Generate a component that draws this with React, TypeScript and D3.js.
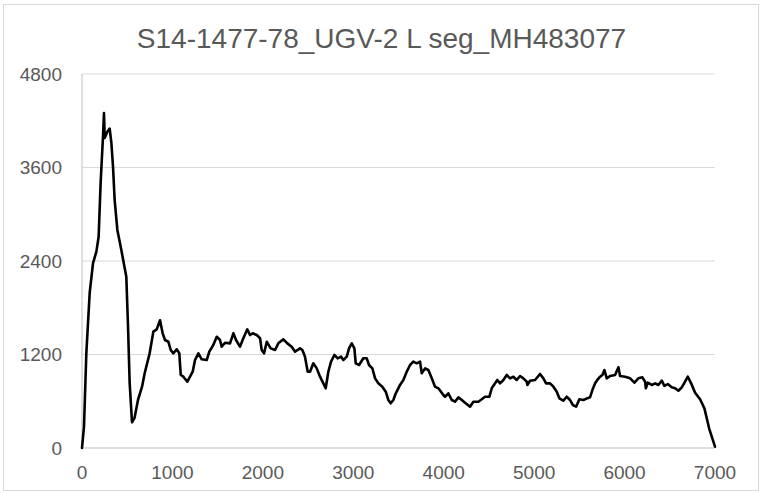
import React from "react";
import * as d3 from "d3";

const title = "S14-1477-78_UGV-2 L seg_MH483077";
const xTicks = [0, 1000, 2000, 3000, 4000, 5000, 6000, 7000];
const yTicks = [0, 1200, 2400, 3600, 4800];

const positions = [
  0, 22, 48, 85, 122, 159, 184, 206, 232, 243, 251, 280, 306, 325, 343, 361, 391, 435, 490, 509, 527, 553,
  582, 619, 664, 693, 748, 789, 826, 863, 892, 918, 955, 981, 1010, 1047, 1076, 1092, 1121, 1165, 1195, 1224,
  1250, 1287, 1324, 1379, 1408, 1452, 1490, 1526, 1545, 1582, 1637, 1674, 1703, 1747, 1784, 1828, 1858, 1888,
  1932, 1969, 1987, 2013, 2043, 2087, 2135, 2171, 2227, 2271, 2319, 2356, 2411, 2437, 2466, 2496, 2522, 2558,
  2596, 2632, 2669, 2695, 2724, 2754, 2791, 2828, 2865, 2890, 2928, 2953, 2983, 3012, 3027, 3064, 3111, 3149,
  3174, 3211, 3241, 3277, 3321, 3359, 3388, 3414, 3443, 3470, 3517, 3554, 3591, 3628, 3664, 3702, 3738, 3757,
  3794, 3830, 3868, 3904, 3941, 3996, 4015, 4051, 4089, 4125, 4162, 4200, 4236, 4291, 4328, 4383, 4421, 4457,
  4505, 4531, 4568, 4593, 4623, 4660, 4697, 4734, 4770, 4807, 4844, 4881, 4918, 4925, 4955, 5010, 5065, 5102,
  5132, 5176, 5213, 5250, 5279, 5323, 5360, 5397, 5427, 5464, 5500, 5545, 5590, 5618, 5644, 5674, 5704, 5729,
  5755, 5777, 5803, 5840, 5895, 5932, 5950, 6006, 6061, 6109, 6153, 6197, 6227, 6235, 6257, 6301, 6338, 6374,
  6412, 6440, 6478, 6522, 6559, 6595, 6633, 6669, 6699, 6736, 6780, 6835, 6883, 6909, 6935, 6964, 7000,
];

const coverage = [
  0, 273, 1217, 1990, 2374, 2520, 2712, 3400, 3995, 4300, 3980, 4060, 4100, 3914, 3610, 3183, 2798, 2541, 2199, 1557, 834, 330,
  390, 616, 787, 959, 1215, 1493, 1523, 1640, 1472, 1386, 1364, 1258, 1215, 1267, 1215, 937, 915, 851, 915, 979,
  1129, 1215, 1138, 1129, 1236, 1322, 1428, 1386, 1300, 1351, 1343, 1472, 1386, 1300, 1408, 1523, 1450, 1472,
  1450, 1408, 1258, 1215, 1364, 1279, 1258, 1343, 1395, 1343, 1300, 1236, 1279, 1258, 1172, 979, 979, 1087,
  1022, 915, 830, 766, 979, 1108, 1194, 1151, 1172, 1129, 1172, 1279, 1343, 1279, 1087, 1065, 1151, 1151,
  1065, 1022, 894, 830, 787, 723, 616, 574, 616, 702, 809, 873, 979, 1065, 1108, 1087, 1108, 959,
  1022, 1001, 894, 787, 766, 680, 658, 702, 616, 594, 650, 616, 581, 530, 594, 594, 625, 658,
  658, 766, 830, 873, 830, 873, 937, 894, 915, 873, 924, 894, 851, 809, 864, 873, 950, 894,
  830, 830, 787, 723, 638, 607, 658, 616, 552, 530, 625, 616, 640, 650, 744, 830, 881, 915,
  937, 1001, 894, 924, 937, 1036, 924, 915, 894, 838, 894, 907, 851, 766, 838, 809, 830, 809,
  864, 796, 821, 779, 766, 735, 779, 851, 915, 830, 710, 625, 509, 381, 253, 145, 17,
];

const W = 763;
const H = 493;
const left = 82;
const right = 715;
const top = 74;
const bottom = 448;
const textColor = "#595959";
const font = "'Liberation Sans', Arial, sans-serif";

export default function App() {
  const x = d3.scaleLinear().domain([0, 7000]).range([left, right]);
  const y = d3.scaleLinear().domain([0, 4800]).range([bottom, top]);
  const data = positions.map((p, i) => [p, coverage[i]] as [number, number]);
  const line = d3
    .line<[number, number]>()
    .x((d) => x(d[0]))
    .y((d) => y(d[1]));

  return (
    <svg
      width={W}
      height={H}
      style={{ position: "absolute", left: 0, top: 0, background: "#fff" }}
      fontFamily={font}
    >
      <rect x={0} y={0} width={W} height={H} fill="#fff" />
      <rect x={3.5} y={4.5} width={755} height={486} fill="none" stroke="#d9d9d9" strokeWidth={1} />
      <text x={381.5} y={48} textAnchor="middle" fontSize={28} fill={textColor}>
        {title}
      </text>
      {yTicks
        .filter((t) => t > 0)
        .map((t) => (
          <line key={"g" + t} x1={left} x2={right} y1={y(t)} y2={y(t)} stroke="#d9d9d9" strokeWidth={1} />
        ))}
      <line x1={left} x2={left} y1={top} y2={bottom} stroke="#bfbfbf" strokeWidth={1} />
      <line x1={left} x2={right} y1={bottom} y2={bottom} stroke="#bfbfbf" strokeWidth={1} />
      {yTicks.map((t) => (
        <text key={"y" + t} x={62} y={y(t)} dy="0.36em" textAnchor="end" fontSize={19} fill={textColor}>
          {t}
        </text>
      ))}
      {xTicks.map((t) => (
        <text key={"x" + t} x={x(t)} y={479} textAnchor="middle" fontSize={19} fill={textColor}>
          {t}
        </text>
      ))}
      <path d={line(data) || ""} fill="none" stroke="#000" strokeWidth={2.6} strokeLinejoin="round" strokeLinecap="round" />
    </svg>
  );
}
